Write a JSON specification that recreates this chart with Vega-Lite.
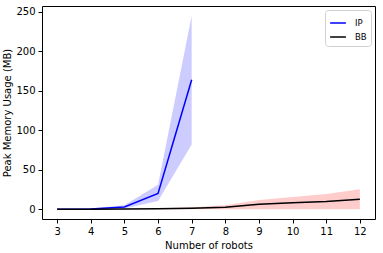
{
  "$schema": "https://vega.github.io/schema/vega-lite/v6.json",
  "width": 333,
  "height": 213,
  "autosize": {"type": "none"},
  "padding": {"left": 42, "top": 6, "right": 8, "bottom": 34},
  "background": "white",
  "config": {
    "font": "DejaVu Sans",
    "view": {"stroke": "black", "strokeWidth": 1},
    "axis": {"grid": false, "domain": false, "tickColor": "black", "labelColor": "black", "titleColor": "black", "labelFontSize": 10, "titleFontSize": 10, "titleFontWeight": "normal", "tickSize": 4, "labelPadding": 3}
  },
  "data": {"values": [
    {"series": "IP", "robots": 3, "mean": 0.2, "lo": 0, "hi": 0.4},
    {"series": "IP", "robots": 4, "mean": 0.5, "lo": 0.2, "hi": 0.9},
    {"series": "IP", "robots": 5, "mean": 3, "lo": 1, "hi": 5},
    {"series": "IP", "robots": 6, "mean": 20, "lo": 10.5, "hi": 31},
    {"series": "IP", "robots": 7, "mean": 164, "lo": 82, "hi": 245},
    {"series": "BB", "robots": 3, "mean": 0.1, "lo": 0, "hi": 0.2},
    {"series": "BB", "robots": 4, "mean": 0.2, "lo": 0, "hi": 0.4},
    {"series": "BB", "robots": 5, "mean": 0.4, "lo": 0, "hi": 0.8},
    {"series": "BB", "robots": 6, "mean": 0.8, "lo": 0, "hi": 1.5},
    {"series": "BB", "robots": 7, "mean": 1.3, "lo": 0, "hi": 2.5},
    {"series": "BB", "robots": 8, "mean": 2.5, "lo": 0, "hi": 5},
    {"series": "BB", "robots": 9, "mean": 6.3, "lo": 0, "hi": 11.8},
    {"series": "BB", "robots": 10, "mean": 8.4, "lo": 0, "hi": 15.6},
    {"series": "BB", "robots": 11, "mean": 10, "lo": 0, "hi": 19.4},
    {"series": "BB", "robots": 12, "mean": 12.7, "lo": 0, "hi": 25.3}
  ]},
  "encoding": {
    "x": {"field": "robots", "type": "quantitative", "scale": {"domain": [2.55, 12.45], "nice": false, "zero": false}, "axis": {"values": [3,4,5,6,7,8,9,10,11,12], "title": "Number of robots", "titlePadding": 4}}
  },
  "layer": [
    {
      "mark": {"type": "area", "opacity": 0.2},
      "encoding": {
        "y": {"field": "lo", "type": "quantitative", "scale": {"domain": [-12.25, 257.25], "nice": false, "zero": false}, "axis": {"values": [0,50,100,150,200,250], "title": "Peak Memory Usage (MB)", "titlePadding": 3}},
        "y2": {"field": "hi"},
        "fill": {"field": "series", "type": "nominal", "scale": {"domain": ["IP", "BB"], "range": ["#0000ff", "#ff0000"]}, "legend": null},
        "detail": {"field": "series"}
      }
    },
    {
      "mark": {"type": "line", "strokeWidth": 1.5},
      "encoding": {
        "y": {"field": "mean", "type": "quantitative"},
        "stroke": {"field": "series", "type": "nominal", "scale": {"domain": ["IP", "BB"], "range": ["#0000ff", "#000000"]},
          "legend": {"title": null, "orient": "top-right", "symbolType": "stroke", "symbolStrokeWidth": 1.5, "symbolSize": 250, "labelFontSize": 8.5, "labelColor": "black", "labelOffset": 8, "strokeColor": "#d0d0d0", "fillColor": "white", "padding": 4, "cornerRadius": 3, "offset": 4, "rowPadding": 0, "labelLimit": 40}}
      }
    }
  ],
  "resolve": {"scale": {"fill": "independent", "stroke": "independent"}}
}
